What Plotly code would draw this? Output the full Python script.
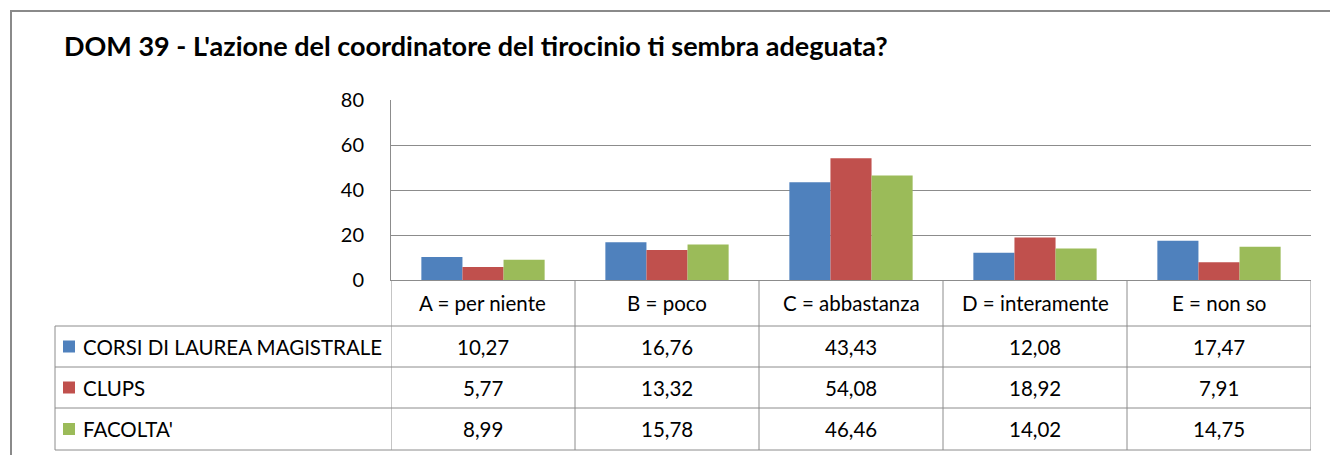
import plotly.graph_objects as go

# Data
categories = ["A = per niente", "B = poco", "C = abbastanza", "D = interamente", "E = non so"]
series_names = ["CORSI DI LAUREA MAGISTRALE", "CLUPS", "FACOLTA'"]
corsi_laurea_magistrale = [10.27, 16.76, 43.43, 12.08, 17.47]
clups = [5.77, 13.32, 54.08, 18.92, 7.91]
facolta = [8.99, 15.78, 46.46, 14.02, 14.75]
y_ticks = [0, 20, 40, 60, 80]
title_text = "DOM 39 - L'azione del coordinatore del tirocinio ti sembra adeguata?"

series_values = [corsi_laurea_magistrale, clups, facolta]
colors = ["#4F81BD", "#C0504D", "#9BBB59"]

W, H = 1330, 455
FONT = "Lato"
GRID = "#8c8c8c"
TABLE_FONT = dict(family=FONT, size=20.5, color="#000")


def px(x):
    return x / W


def py(y):
    return 1 - y / H


# plot area in pixels
PL, PR, PT, PB = 391, 1311, 100, 280
# table rows (pixel y of horizontal rules)
ROWS = [326, 367, 408, 450]
TABLE_LEFT = 55

fig = go.Figure()
for name, vals, col in zip(series_names, series_values, colors):
    fig.add_trace(go.Bar(x=categories, y=vals, name=name, marker_color=col,
                         marker_line_width=0, showlegend=False))

shapes = []
annotations = []

# outer chart frame (top and left edges)
shapes.append(dict(type="line", xref="paper", yref="paper", x0=px(10), x1=px(1332),
                   y0=py(11), y1=py(11), line=dict(color="#8a8a8a", width=2)))
shapes.append(dict(type="line", xref="paper", yref="paper", x0=px(11), x1=px(11),
                   y0=py(10), y1=py(460), line=dict(color="#8a8a8a", width=2)))

# data table horizontal rules
for y in ROWS:
    shapes.append(dict(type="line", xref="paper", yref="paper", x0=px(TABLE_LEFT), x1=px(PR),
                       y0=py(y), y1=py(y), line=dict(color=GRID, width=1)))
# table vertical rules at category boundaries
for b in [-0.5, 0.5, 1.5, 2.5, 3.5, 4.5]:
    shapes.append(dict(type="line", xref="x", yref="paper", x0=b, x1=b,
                       y0=py(PB), y1=py(ROWS[-1]), line=dict(color=GRID, width=1)))
shapes.append(dict(type="line", xref="paper", yref="paper", x0=px(TABLE_LEFT), x1=px(TABLE_LEFT),
                   y0=py(ROWS[0]), y1=py(ROWS[-1]), line=dict(color=GRID, width=1)))

# category header row
for c in categories:
    annotations.append(dict(x=c, xref="x", y=py((PB + ROWS[0]) / 2), yref="paper",
                            text=c, showarrow=False, xanchor="center", yanchor="middle",
                            font=TABLE_FONT))

# series rows: colour key, name, values
for i, (name, vals, col) in enumerate(zip(series_names, series_values, colors)):
    yc = (ROWS[i] + ROWS[i + 1]) / 2
    shapes.append(dict(type="rect", xref="paper", yref="paper", x0=px(63), x1=px(75),
                       y0=py(yc - 6), y1=py(yc + 6), fillcolor=col, line=dict(width=0)))
    annotations.append(dict(x=px(81), xref="paper", y=py(yc), yref="paper", text=name,
                            showarrow=False, xanchor="left", yanchor="middle",
                            font=TABLE_FONT))
    for c, v in zip(categories, vals):
        annotations.append(dict(x=c, xref="x", y=py(yc), yref="paper",
                                text=f"{v:.2f}".replace(".", ","), showarrow=False,
                                xanchor="center", yanchor="middle", font=TABLE_FONT))

# title
annotations.append(dict(x=px(62), xref="paper", y=py(46), yref="paper", text=f"<b>{title_text}</b>",
                        showarrow=False, xanchor="left", yanchor="middle",
                        font=dict(family=FONT, size=27, color="#000")))

fig.update_layout(
    width=W, height=H,
    margin=dict(l=0, r=0, t=0, b=0, autoexpand=False),
    paper_bgcolor="white", plot_bgcolor="white",
    barmode="group", bargap=0.33, bargroupgap=0,
    xaxis=dict(domain=[px(PL), px(PR)], range=[-0.5, 4.5], showticklabels=False,
               showgrid=False, showline=True, linecolor=GRID, linewidth=1, ticks="",
               zeroline=False, automargin=False),
    yaxis=dict(domain=[py(PB), py(PT)], range=[0, 80], tickvals=y_ticks,
               showgrid=True, gridcolor=GRID, gridwidth=1, showline=True, linecolor=GRID,
               linewidth=1, zeroline=False, ticks="", ticklabelstandoff=22, automargin=False,
               tickfont=dict(family=FONT, size=20, color="#000")),
    shapes=shapes, annotations=annotations,
    showlegend=False,
)

fig.write_html("out.html")
